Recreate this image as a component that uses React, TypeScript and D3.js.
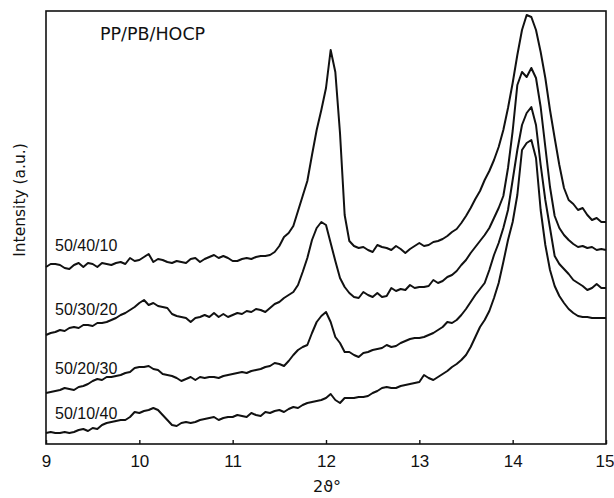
import React, { useEffect, useRef } from 'react';
import * as d3 from 'd3';

// 2theta grid, step 0.05 from 9 to 15
const angles: number[] = d3.range(0, 121).map((i) => 9 + i * 0.05);

const curveLabels = ['50/40/10', '50/30/20', '50/20/30', '50/10/40'];

// intensities (a.u.)
const pp50pb40 = [
  177, 180, 180, 179, 176, 175, 179, 181, 177, 181,
  180, 177, 181, 180, 179, 181, 182, 180, 186, 183,
  184, 187, 190, 182, 185, 184, 182, 181, 183, 182,
  181, 185, 186, 182, 185, 187, 189, 186, 188, 186,
  183, 183, 185, 186, 185, 187, 188, 188, 189, 192,
  198, 207, 211, 218, 233, 248, 263, 289, 314, 334,
  356, 394, 372, 311, 229, 203, 198, 196, 197, 194,
  192, 199, 197, 196, 194, 198, 195, 191, 195, 198,
  201, 198, 199, 202, 203, 205, 208, 212, 215, 221,
  228, 236, 245, 253, 264, 273, 284, 297, 314, 336,
  361, 389, 414, 429, 427, 414, 392, 366, 334, 306,
  279, 256, 244, 240, 234, 236, 229, 224, 226, 222,
  222,
];

const pp50pb30 = [
  109, 111, 112, 114, 113, 116, 117, 116, 119, 119,
  118, 121, 121, 122, 124, 126, 129, 131, 134, 137,
  141, 144, 139, 141, 138, 137, 136, 130, 128, 127,
  126, 122, 126, 127, 129, 127, 131, 127, 130, 127,
  129, 131, 130, 133, 132, 135, 134, 132, 136, 140,
  142, 146, 149, 152, 159, 172, 186, 204, 216, 222,
  219, 201, 183, 166, 157, 151, 147, 146, 152, 149,
  147, 151, 147, 148, 156, 153, 155, 154, 159, 156,
  157, 157, 158, 164, 161, 163, 167, 169, 173, 179,
  184, 191, 197, 203, 209, 216, 226, 236, 248, 276,
  313, 359, 372, 367, 376, 366, 337, 297, 257, 228,
  216, 209, 204, 200, 197, 198, 196, 197, 194, 195,
  194,
];

const pp50pb20 = [
  51, 52, 53, 54, 56, 55, 54, 57, 58, 60,
  63, 65, 64, 67, 67, 68, 69, 71, 72, 76,
  77, 77, 78, 75, 74, 70, 69, 68, 66, 63,
  65, 67, 64, 67, 66, 67, 67, 66, 68, 69,
  70, 71, 72, 71, 73, 74, 75, 77, 78, 81,
  80, 78, 83, 89, 94, 97, 99, 111, 122, 128,
  132, 122, 107, 101, 92, 92, 89, 87, 91, 92,
  94, 95, 96, 99, 97, 98, 101, 103, 105, 106,
  106, 107, 109, 111, 114, 117, 122, 121, 124, 129,
  135, 142, 149, 155, 161, 174, 189, 201, 216, 234,
  264, 294, 319, 331, 337, 319, 279, 244, 216, 188,
  180, 175, 170, 164, 161, 158, 154, 156, 160, 156,
  156,
];

const pp50pb10 = [
  11, 12, 11, 11, 12, 11, 12, 14, 15, 13,
  16, 15, 19, 21, 22, 23, 24, 24, 27, 32,
  31, 33, 34, 36, 34, 29, 24, 19, 18, 21,
  22, 21, 22, 24, 25, 26, 27, 24, 26, 27,
  27, 29, 28, 27, 31, 29, 28, 32, 31, 33,
  34, 32, 35, 37, 36, 39, 41, 42, 43, 44,
  46, 50, 44, 41, 46, 46, 46, 47, 47, 48,
  51, 53, 56, 57, 56, 56, 58, 59, 60, 61,
  62, 69, 66, 64, 67, 70, 73, 77, 80, 84,
  89, 97, 107, 117, 124, 133, 146, 161, 182, 204,
  222, 249, 294, 301, 304, 286, 234, 199, 174, 158,
  148, 141, 135, 131, 128, 127, 127, 126, 126, 126,
  126,
];

const seriesList = [pp50pb40, pp50pb30, pp50pb20, pp50pb10];
const xTicks = [9, 10, 11, 12, 13, 14, 15];

function App() {
  const ref = useRef<SVGSVGElement>(null);

  useEffect(() => {
    const width = 614;
    const height = 498;
    const margin = { top: 11, right: 8, bottom: 54, left: 46 };
    const w = width - margin.left - margin.right;
    const h = height - margin.top - margin.bottom;

    const root = d3.select(ref.current);
    root.selectAll('*').remove();
    const svg = root.append('g').attr('transform', 'translate(' + margin.left + ',' + margin.top + ')');

    const x = d3.scaleLinear().domain([9, 15]).range([0, w]);
    const y = d3.scaleLinear().domain([0, h]).range([h, 0]);

    const line = d3.line<number>()
      .x((d, i) => x(angles[i]))
      .y((d) => y(d));

    svg.selectAll('.trace').data(seriesList).enter().append('path')
      .attr('class', 'trace')
      .attr('d', (d) => line(d))
      .attr('fill', 'none')
      .attr('stroke', '#111')
      .attr('stroke-width', 2)
      .attr('stroke-linejoin', 'round');

    // frame
    svg.append('rect')
      .attr('x', 0).attr('y', 0).attr('width', w).attr('height', h)
      .attr('fill', 'none').attr('stroke', '#111').attr('stroke-width', 1.6);

    const xAxis = d3.axisBottom(x).tickValues(xTicks).tickFormat(d3.format('d'))
      .tickSizeInner(-4).tickSizeOuter(0).tickPadding(11);
    const gx = svg.append('g').attr('transform', 'translate(0,' + h + ')').call(xAxis);
    gx.select('.domain').remove();
    gx.selectAll('line').attr('stroke', '#111').attr('stroke-width', 1.4);
    gx.selectAll('text').attr('fill', '#111')
      .style('font-family', '"Liberation Sans", Arial, sans-serif').style('font-size', '17px');
    // last label sits against the right edge
    gx.selectAll<SVGTextElement, number>('text')
      .filter((d) => d === 15)
      .attr('text-anchor', 'end')
      .attr('x', 8);

    // curve labels
    const labelY = [251, 315, 374, 419];
    svg.selectAll('.clabel').data(curveLabels).enter().append('text')
      .attr('class', 'clabel')
      .attr('x', 9)
      .attr('y', (d, i) => labelY[i] - margin.top)
      .attr('fill', '#111')
      .style('font-family', '"Liberation Sans", Arial, sans-serif')
      .style('font-size', '16px')
      .text((d) => d);

    svg.append('text')
      .attr('x', 54).attr('y', 29)
      .attr('fill', '#111')
      .style('font-family', '"DejaVu Sans", sans-serif').style('font-size', '17.5px')
      .text('PP/PB/HOCP');

    root.append('text')
      .attr('transform', 'translate(25,200) rotate(-90)')
      .attr('text-anchor', 'middle')
      .attr('fill', '#111')
      .style('font-family', '"DejaVu Sans", sans-serif').style('font-size', '15.5px')
      .text('Intensity (a.u.)');

    root.append('text')
      .attr('x', 327).attr('y', 492)
      .attr('text-anchor', 'middle')
      .attr('fill', '#111')
      .style('font-family', '"DejaVu Sans", sans-serif').style('font-size', '16px')
      .text('2ϑ°');
  }, []);

  return (
    <svg ref={ref} width={614} height={498}
      style={{ position: 'absolute', left: 0, top: 0, background: '#fff' }} />
  );
}

export default App;
